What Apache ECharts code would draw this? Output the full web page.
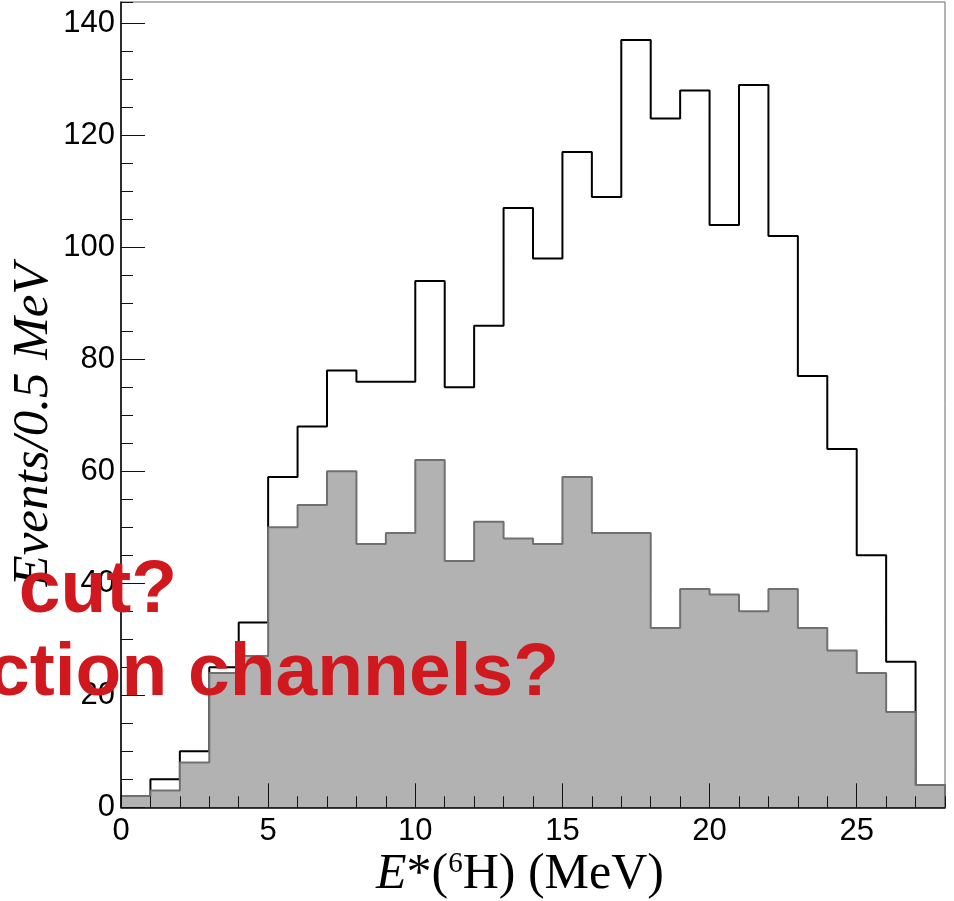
<!DOCTYPE html>
<html>
<head>
<meta charset="utf-8">
<script src="https://cdn.jsdelivr.net/npm/echarts@6/dist/echarts.min.js"></script>
<style>
  html, body { margin: 0; padding: 0; background: #ffffff; }
  #chart { width: 954px; height: 901px; }
</style>
</head>
<body>
<div id="chart"></div>
<script>
// Histogram bins: [i, i+1) MeV, i = 0..27
const binStart = 0;
const binWidth = 1;
const totalCounts = [2, 5, 10, 25, 33, 59, 68, 78, 76, 76, 94, 75, 86, 107, 98, 117, 109, 137, 123, 128, 104, 129, 102, 77, 64, 45, 26, 4];
const selectedCounts = [2, 3, 8, 24, 27, 50, 54, 60, 47, 49, 62, 44, 51, 48, 47, 59, 49, 49, 32, 39, 38, 35, 39, 32, 28, 24, 17, 4];
const xMajorTicks = [0, 5, 10, 15, 20, 25];
const yMajorTicks = [0, 20, 40, 60, 80, 100, 120, 140];
const yTitle = 'Events/0.5 MeV';
const noteLine1 = 'cut?';
const noteLine2 = 'ction channels?';

function stepPoints(counts) {
  const pts = [[binStart, 0]];
  counts.forEach((c, i) => pts.push([binStart + i * binWidth, c]));
  const end = binStart + counts.length * binWidth;
  pts.push([end, counts[counts.length - 1]]);
  pts.push([end, 0]);
  return pts;
}

const chart = echarts.init(document.getElementById('chart'), null, { renderer: 'canvas' });
const labelFont = { fontFamily: 'Liberation Sans', fontSize: 31, color: '#000' };

const option = {
  animation: false,
  backgroundColor: '#ffffff',
  grid: {
    left: 121, top: 2, width: 824, height: 805.3,
    show: true, borderColor: '#666', borderWidth: 1, backgroundColor: 'transparent'
  },
  xAxis: [
    {
      type: 'value', min: 0, max: 28, interval: 5, position: 'bottom', zlevel: 1, z: 10,
      axisLine: { show: true, onZero: false, lineStyle: { color: '#000', width: 1.5 } },
      axisTick: { show: true, inside: true, length: 24, lineStyle: { color: '#111', width: 1 } },
      axisLabel: Object.assign({ margin: 9, showMaxLabel: false,
        formatter: v => (xMajorTicks.indexOf(v) >= 0 ? String(v) : '') }, labelFont),
      splitLine: { show: false }
    },
    {
      type: 'value', min: 0, max: 28, interval: 1, position: 'bottom', zlevel: 1, z: 10,
      axisLine: { show: false },
      axisTick: { show: true, inside: true, length: 11, lineStyle: { color: '#111', width: 1 } },
      axisLabel: { show: false },
      splitLine: { show: false }
    }
  ],
  yAxis: [
    {
      type: 'value', min: 0, max: 143.8, interval: 20, position: 'left', zlevel: 1, z: 10,
      axisLine: { show: true, onZero: false, lineStyle: { color: '#000', width: 1.5 } },
      axisTick: { show: true, inside: true, length: 24, lineStyle: { color: '#111', width: 1 } },
      axisLabel: Object.assign({ margin: 6, showMaxLabel: false,
        formatter: v => (yMajorTicks.indexOf(v) >= 0 ? String(v) : '') }, labelFont),
      splitLine: { show: false }
    },
    {
      type: 'value', min: 0, max: 143.8, interval: 5, position: 'left', zlevel: 1, z: 10,
      axisLine: { show: false },
      axisTick: { show: true, inside: true, length: 12, lineStyle: { color: '#111', width: 1 } },
      axisLabel: { show: false },
      splitLine: { show: false }
    }
  ],
  series: [
    {
      type: 'line', name: 'all', xAxisIndex: 0, yAxisIndex: 0,
      data: stepPoints(totalCounts), step: 'end', symbol: 'none', z: 2,
      lineStyle: { color: '#000', width: 2 }
    },
    {
      type: 'line', name: 'selected', xAxisIndex: 0, yAxisIndex: 0,
      data: stepPoints(selectedCounts), step: 'end', symbol: 'none', z: 3,
      lineStyle: { color: '#707070', width: 2 },
      areaStyle: { color: '#b2b2b2', opacity: 1, origin: 'start' }
    }
  ],
  graphic: [
    {
      type: 'text', x: 520, y: 875, zlevel: 2, z: 20,
      style: {
        text: '{i|E}{n|*(}{s|6}{n|H) (MeV)}',
        align: 'center', verticalAlign: 'middle',
        rich: {
          i: { fontFamily: 'Liberation Serif', fontStyle: 'italic', fontSize: 50, fill: '#000' },
          n: { fontFamily: 'Liberation Serif', fontSize: 50, fill: '#000' },
          s: { fontFamily: 'Liberation Serif', fontSize: 29, fill: '#000', verticalAlign: 'top' }
        }
      }
    },
    {
      type: 'text', x: 34, y: 425, rotation: Math.PI / 2, zlevel: 2, z: 20,
      style: {
        text: yTitle, align: 'center', verticalAlign: 'middle',
        fontFamily: 'Liberation Serif', fontStyle: 'italic', fontSize: 51, fill: '#000'
      }
    },
    {
      type: 'text', x: 177, y: 591, zlevel: 3, z: 30,
      style: {
        text: noteLine1, align: 'right', verticalAlign: 'middle',
        fontFamily: 'Liberation Sans', fontWeight: 'bold', fontSize: 75, fill: '#d0181f'
      }
    },
    {
      type: 'text', x: 559, y: 674, zlevel: 3, z: 30,
      style: {
        text: noteLine2, align: 'right', verticalAlign: 'middle',
        fontFamily: 'Liberation Sans', fontWeight: 'bold', fontSize: 75, fill: '#d0181f'
      }
    }
  ]
};
chart.setOption(option);
</script>
</body>
</html>
